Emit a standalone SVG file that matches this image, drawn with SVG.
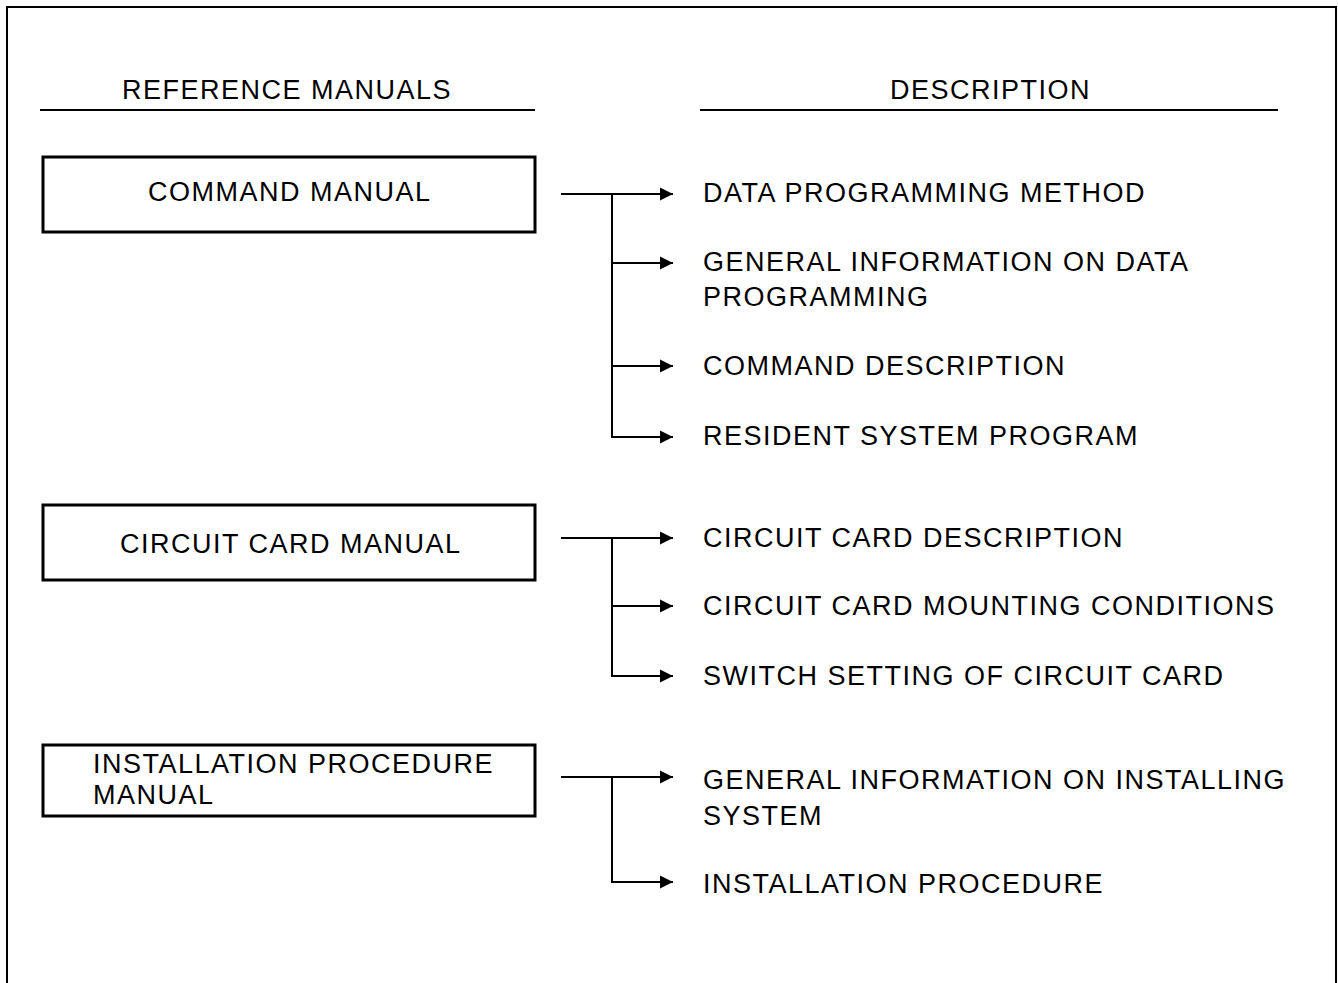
<svg xmlns="http://www.w3.org/2000/svg" width="1338" height="983" viewBox="0 0 1338 983">
<style>
.t{font-family:"Liberation Sans",Arial,sans-serif;font-size:27px;letter-spacing:1.5px;fill:#000}
.box{fill:#fff;stroke:#000;stroke-width:3}
.ln{fill:none;stroke:#000;stroke-width:2}
</style>
<defs>
<marker id="ah" markerWidth="13" markerHeight="14" refX="13" refY="7" orient="auto" markerUnits="userSpaceOnUse">
<path d="M0,0.5 L13,7 L0,13.5 Z" fill="#000"/>
</marker>
</defs>
<rect width="1338" height="983" fill="#fff"/>
<path class="ln" d="M7,983 V7 H1336 V983"/>
<g id="headers">
<text class="t" x="122" y="99">REFERENCE MANUALS</text>
<line class="ln" x1="40" y1="110" x2="535" y2="110"/>
<text class="t" x="890" y="99">DESCRIPTION</text>
<line class="ln" x1="700" y1="110" x2="1278" y2="110"/>
</g>
<g id="command-manual">
<rect class="box" x="43" y="157" width="492" height="75"/>
<text class="t" x="148" y="201">COMMAND MANUAL</text>
</g>
<g id="circuit-card-manual">
<rect class="box" x="43" y="505" width="492" height="75"/>
<text class="t" x="120" y="553">CIRCUIT CARD MANUAL</text>
</g>
<g id="installation-procedure-manual">
<rect class="box" x="43" y="745" width="492" height="71"/>
<text class="t" x="93" y="773">INSTALLATION PROCEDURE</text>
<text class="t" x="93" y="804">MANUAL</text>
</g>
<g id="desc-data-programming-method"><text class="t" x="703" y="202">DATA PROGRAMMING METHOD</text></g>
<g id="desc-general-info-data-programming"><text class="t" x="703" y="271">GENERAL INFORMATION ON DATA</text><text class="t" x="703" y="306">PROGRAMMING</text></g>
<g id="desc-command-description"><text class="t" x="703" y="375">COMMAND DESCRIPTION</text></g>
<g id="desc-resident-system-program"><text class="t" x="703" y="445">RESIDENT SYSTEM PROGRAM</text></g>
<g id="desc-circuit-card-description"><text class="t" x="703" y="547">CIRCUIT CARD DESCRIPTION</text></g>
<g id="desc-circuit-card-mounting"><text class="t" x="703" y="615">CIRCUIT CARD MOUNTING CONDITIONS</text></g>
<g id="desc-switch-setting"><text class="t" x="703" y="685">SWITCH SETTING OF CIRCUIT CARD</text></g>
<g id="desc-general-info-installing"><text class="t" x="703" y="789">GENERAL INFORMATION ON INSTALLING</text><text class="t" x="703" y="825">SYSTEM</text></g>
<g id="desc-installation-procedure"><text class="t" x="703" y="893">INSTALLATION PROCEDURE</text></g>
<g id="connectors">
<line class="ln" x1="561" y1="194" x2="673" y2="194" marker-end="url(#ah)"/>
<path class="ln" d="M612,194 V437 H673" marker-end="url(#ah)"/>
<line class="ln" x1="612" y1="263" x2="673" y2="263" marker-end="url(#ah)"/>
<line class="ln" x1="612" y1="366" x2="673" y2="366" marker-end="url(#ah)"/>
<line class="ln" x1="561" y1="538" x2="673" y2="538" marker-end="url(#ah)"/>
<path class="ln" d="M612,538 V676 H673" marker-end="url(#ah)"/>
<line class="ln" x1="612" y1="606" x2="673" y2="606" marker-end="url(#ah)"/>
<line class="ln" x1="561" y1="777" x2="673" y2="777" marker-end="url(#ah)"/>
<path class="ln" d="M612,777 V882 H673" marker-end="url(#ah)"/>
</g>
</svg>
